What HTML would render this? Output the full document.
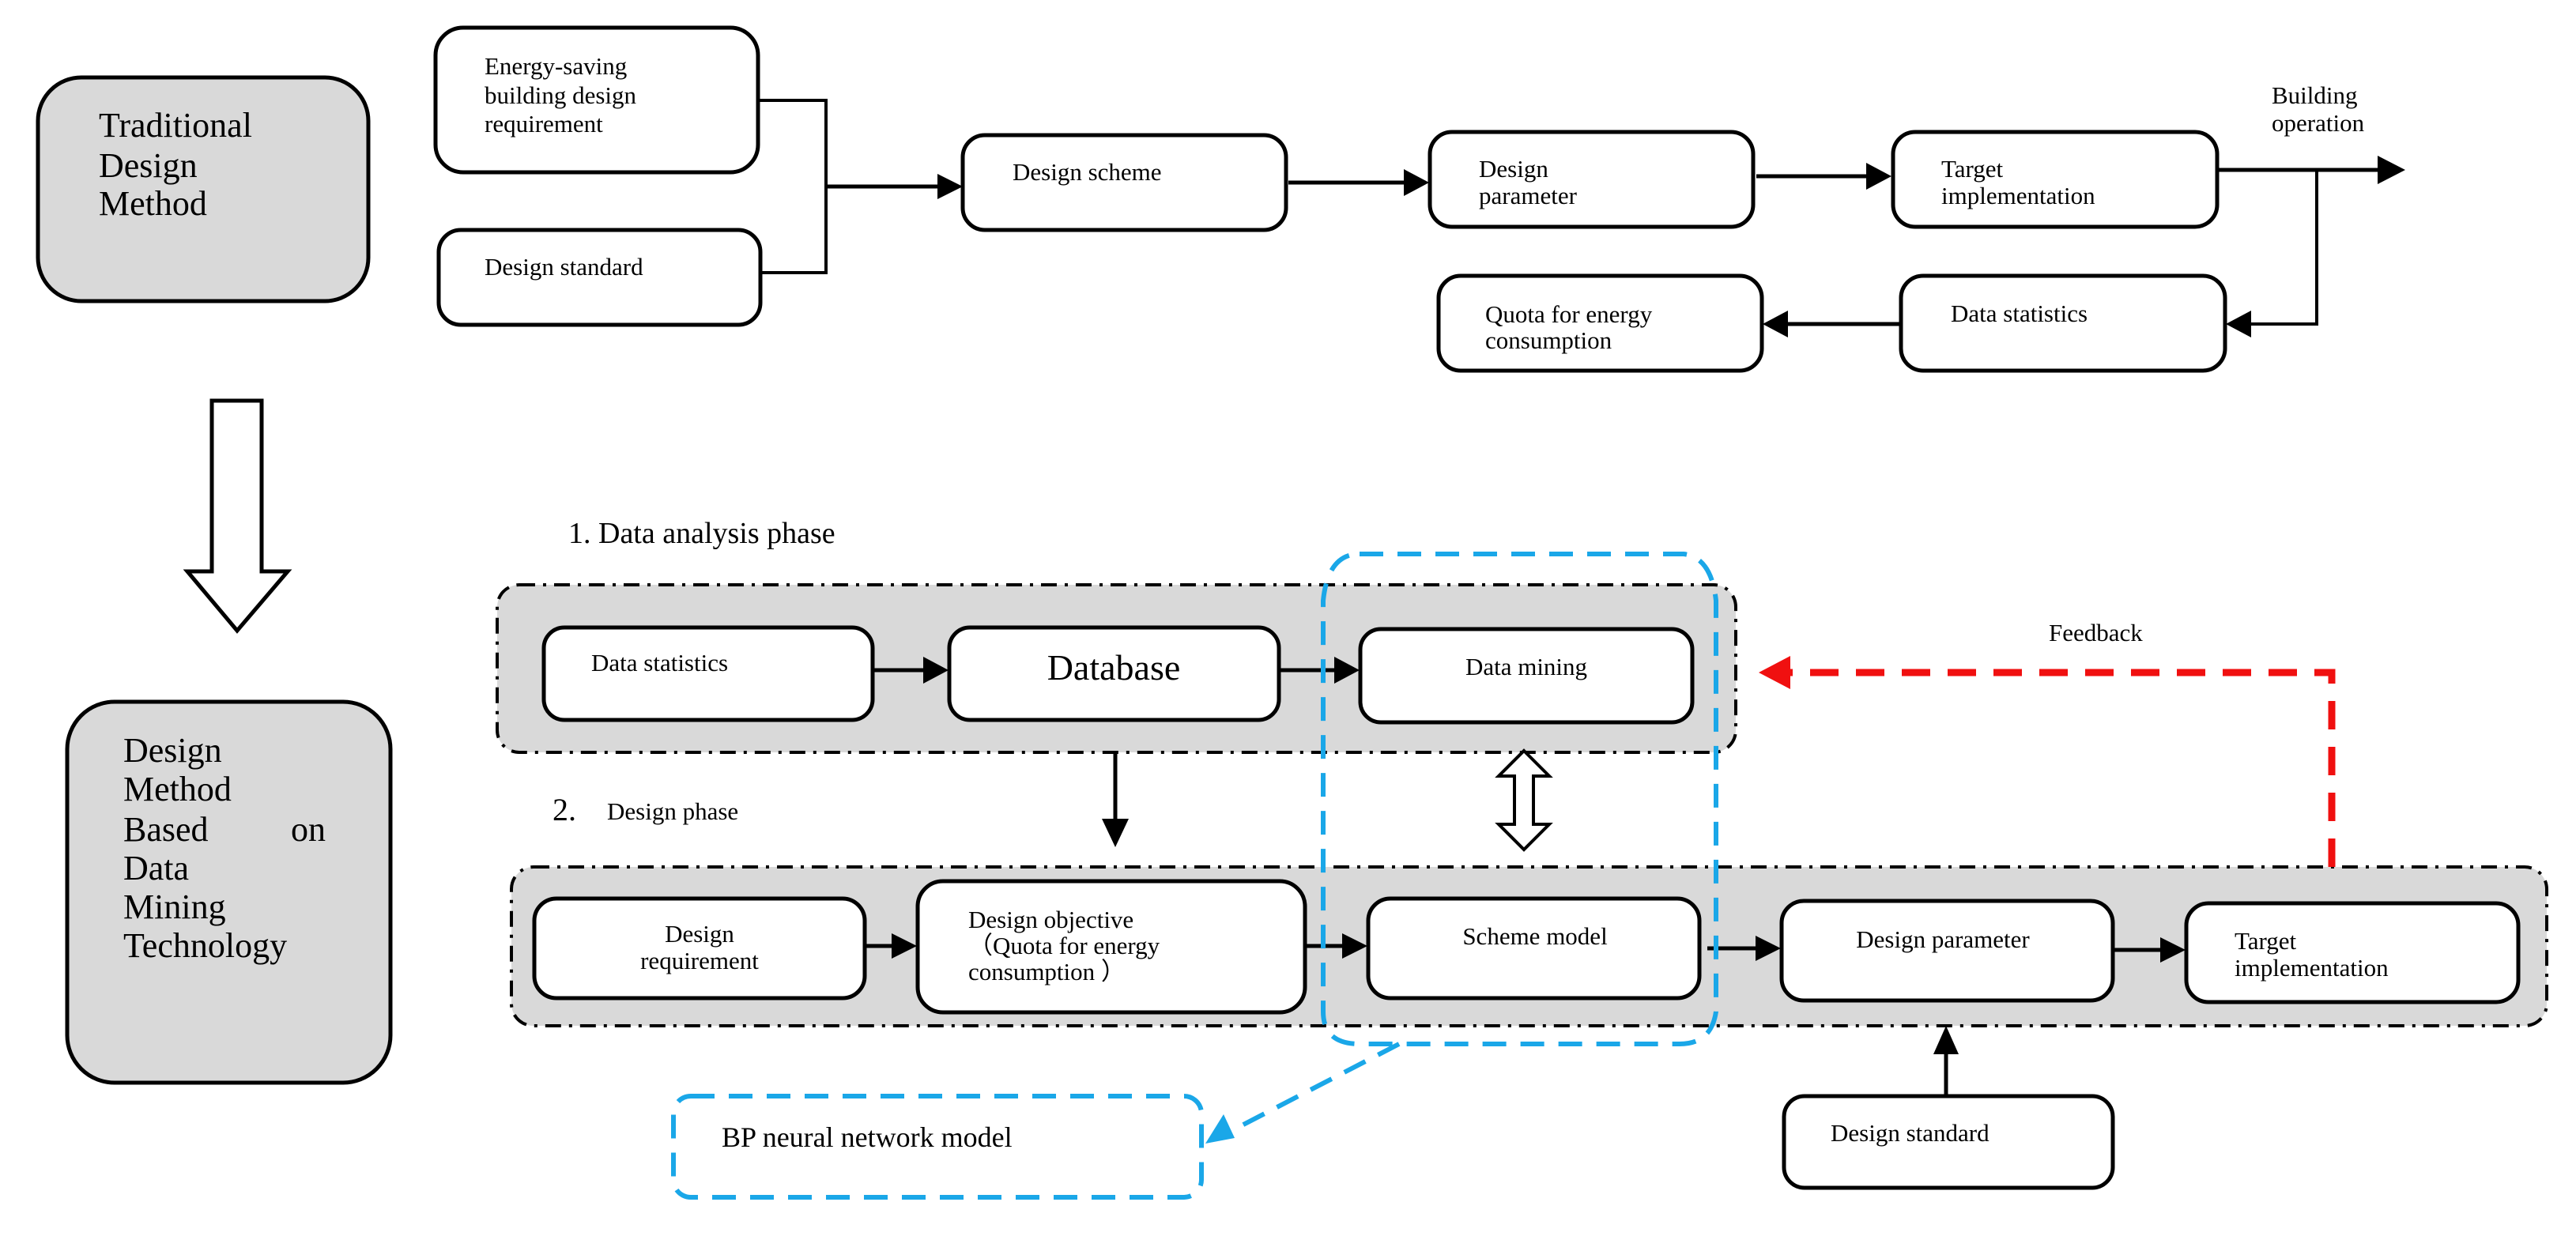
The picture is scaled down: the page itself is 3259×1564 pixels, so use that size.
<!DOCTYPE html>
<html><head><meta charset="utf-8"><style>
html,body{margin:0;padding:0;background:#fff;}
svg{display:block;}
text{font-family:"Liberation Serif",serif;fill:#000;}
</style></head><body>
<svg width="3259" height="1564" viewBox="0 0 3259 1564" xmlns="http://www.w3.org/2000/svg">
<g stroke="#000" stroke-width="5" fill="none">
<rect x="48" y="98" width="418" height="283" rx="55" fill="#d9d9d9"/>
<rect x="85" y="888" width="409" height="482" rx="60" fill="#d9d9d9"/>
<rect x="629" y="740" width="1567" height="212" rx="28" fill="#d9d9d9" stroke-width="4" stroke-dasharray="20 10 4 10"/>
<rect x="647" y="1097" width="2575" height="201" rx="28" fill="#d9d9d9" stroke-width="4" stroke-dasharray="20 10 4 10"/>
<rect x="551" y="35" width="408" height="183" rx="35" fill="#fff"/>
<rect x="555" y="291" width="407" height="120" rx="28" fill="#fff"/>
<rect x="1218" y="171" width="409" height="120" rx="28" fill="#fff"/>
<rect x="1809" y="167" width="409" height="120" rx="28" fill="#fff"/>
<rect x="2395" y="167" width="410" height="120" rx="28" fill="#fff"/>
<rect x="2405" y="349" width="410" height="120" rx="28" fill="#fff"/>
<rect x="1820" y="349" width="409" height="120" rx="28" fill="#fff"/>
<rect x="688" y="794" width="416" height="117" rx="26" fill="#fff"/>
<rect x="1201" y="794" width="417" height="117" rx="26" fill="#fff"/>
<rect x="1721" y="796" width="420" height="118" rx="26" fill="#fff"/>
<rect x="676" y="1137" width="418" height="126" rx="28" fill="#fff"/>
<rect x="1161" y="1115" width="490" height="166" rx="32" fill="#fff"/>
<rect x="1731" y="1137" width="419" height="126" rx="28" fill="#fff"/>
<rect x="2254" y="1140" width="419" height="126" rx="28" fill="#fff"/>
<rect x="2766" y="1143" width="420" height="125" rx="28" fill="#fff"/>
<rect x="2257" y="1387" width="416" height="116" rx="26" fill="#fff"/>
<polyline points="959,127 1045,127 1045,345 962,345" stroke-width="4"/>
<line x1="1045" y1="236" x2="1190" y2="236"/>
<line x1="1630" y1="231" x2="1780" y2="231"/>
<line x1="2222" y1="223" x2="2365" y2="223"/>
<line x1="2805" y1="215" x2="3012" y2="215"/>
<polyline points="2931,215 2931,410 2845,410" stroke-width="4"/>
<line x1="2405" y1="410" x2="2258" y2="410"/>
<line x1="1104" y1="848" x2="1172" y2="848"/>
<line x1="1618" y1="848" x2="1690" y2="848"/>
<line x1="1411" y1="952" x2="1411" y2="1040"/>
<line x1="1094" y1="1197" x2="1130" y2="1197"/>
<line x1="1651" y1="1197" x2="1700" y2="1197"/>
<line x1="2160" y1="1200" x2="2224" y2="1200"/>
<line x1="2673" y1="1202" x2="2735" y2="1202"/>
<line x1="2462" y1="1387" x2="2462" y2="1330"/>
</g>
<g fill="#000">
<polygon points="1218,236 1186,220 1186,252"/>
<polygon points="1808,231 1776,214 1776,248"/>
<polygon points="2393,223 2361,206 2361,240"/>
<polygon points="3043,215 3008,197 3008,233"/>
<polygon points="2816,410 2848,393 2848,427"/>
<polygon points="2230,410 2262,393 2262,427"/>
<polygon points="1200,848 1168,831 1168,865"/>
<polygon points="1720,848 1688,831 1688,865"/>
<polygon points="1411,1072 1394,1036 1428,1036"/>
<polygon points="1160,1197 1128,1181 1128,1213"/>
<polygon points="1730,1197 1698,1181 1698,1213"/>
<polygon points="2253,1200 2221,1184 2221,1216"/>
<polygon points="2765,1202 2733,1186 2733,1218"/>
<polygon points="2462,1298 2446,1334 2478,1334"/>
</g>
<polygon points="268,507 331,507 331,723 364,723 300,798 237,723 268,723" fill="#fff" stroke="#000" stroke-width="5"/>
<polygon points="1928,950 1960,982 1940,982 1940,1043 1960,1043 1928,1075 1896,1043 1916,1043 1916,982 1896,982" fill="#fff" stroke="#000" stroke-width="4"/>
<g stroke="#1aa7e8" stroke-width="6" fill="none" stroke-dasharray="30 18">
<path d="M1720,701 L2130,701 Q2165,705 2171,760 L2171,1280 Q2165,1321 2125,1321 L1720,1321 Q1674,1321 1674,1280 L1674,760 Q1680,701 1720,701 Z"/>
<line x1="1770" y1="1321" x2="1550" y2="1435"/>
<rect x="852" y="1387" width="668" height="128" rx="22"/>
</g>
<polygon points="1525,1447 1548,1410 1562,1440" fill="#1aa7e8"/>
<polyline points="2950,1097 2950,851 2262,851" stroke="#f01010" stroke-width="9" fill="none" stroke-dasharray="36 22"/>
<polygon points="2225,851 2265,830 2265,872" fill="#f01010"/>
<g font-size="44">
<text x="125" y="173">Traditional</text>
<text x="125" y="224">Design</text>
<text x="125" y="272">Method</text>
<text x="156" y="964">Design</text>
<text x="156" y="1013">Method</text>
<text x="156" y="1064">Based</text><text x="368" y="1064">on</text>
<text x="156" y="1113">Data</text>
<text x="156" y="1162">Mining</text>
<text x="156" y="1211">Technology</text>
</g>
<g font-size="31">
<text x="613" y="94">Energy-saving</text>
<text x="613" y="131">building  design</text>
<text x="613" y="167">requirement</text>
<text x="613" y="348">Design standard</text>
<text x="1281" y="228">Design scheme</text>
<text x="1871" y="224">Design</text>
<text x="1871" y="258">parameter</text>
<text x="2456" y="224">Target</text>
<text x="2456" y="258">implementation</text>
<text x="2874" y="131">Building</text>
<text x="2874" y="166">operation</text>
<text x="2468" y="407">Data statistics</text>
<text x="1879" y="408">Quota for energy</text>
<text x="1879" y="441">consumption</text>
<text x="748" y="849">Data statistics</text>
<text x="1931" y="854" text-anchor="middle">Data mining</text>
<text x="885" y="1192" text-anchor="middle">Design</text>
<text x="885" y="1226" text-anchor="middle">requirement</text>
<text x="1225" y="1174">Design objective</text>
<text x="1225" y="1207">（Quota for energy</text>
<text x="1225" y="1240">consumption ）</text>
<text x="1942" y="1195" text-anchor="middle">Scheme model</text>
<text x="2458" y="1199" text-anchor="middle">Design parameter</text>
<text x="2827" y="1201">Target</text>
<text x="2827" y="1235">implementation</text>
<text x="2316" y="1444">Design standard</text>
<text x="2592" y="811">Feedback</text>
<text x="768" y="1037">Design phase</text>
</g>
<text x="1409" y="860" font-size="46" text-anchor="middle">Database</text>
<text x="913" y="1451" font-size="36">BP neural network model</text>
<text x="719" y="687" font-size="38">1. Data analysis phase</text>
<text x="699" y="1038" font-size="40">2.</text>
</svg>
</body></html>
